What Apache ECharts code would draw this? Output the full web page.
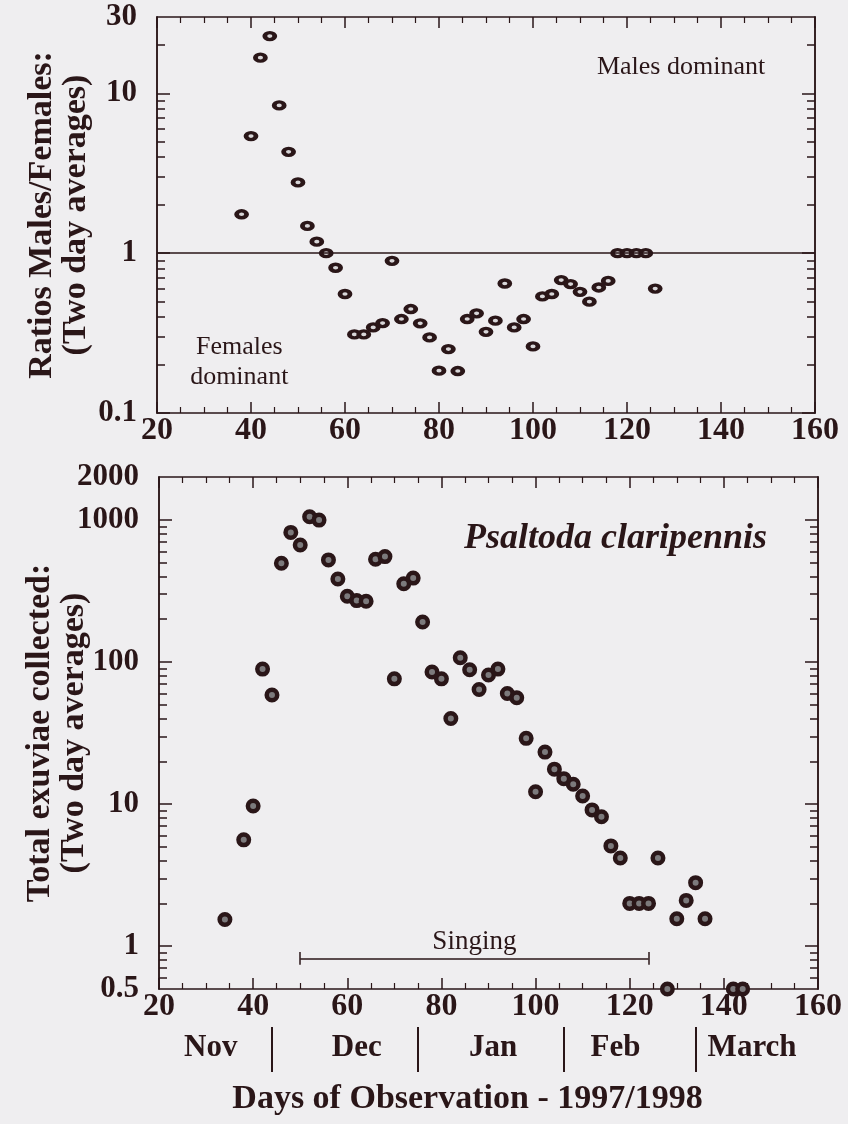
<!DOCTYPE html>
<html>
<head>
<meta charset="utf-8">
<script src="https://cdn.jsdelivr.net/npm/echarts@6/dist/echarts.min.js"></script>
<style>
  html, body { margin: 0; padding: 0; background: #efeef0; }
  #chart { width: 848px; height: 1124px; }
</style>
</head>
<body>
<div id="chart"></div>
<script>
// top panel: sex ratio (two day averages)
const ratioDays = [38, 40, 42, 44, 46, 48, 50, 52, 54, 56, 58, 60, 62, 64, 66, 68, 70, 72, 74, 76, 78, 80, 82, 84, 86, 88, 90, 92, 94, 96, 98, 100, 102, 104, 106, 108, 110, 112, 114, 116, 118, 120, 122, 124, 126];
const ratioValues = [1.75, 5.4, 16.7, 22.8, 8.4, 4.3, 2.77, 1.48, 1.18, 1.0, 0.81, 0.555, 0.31, 0.31, 0.343, 0.365, 0.895, 0.387, 0.447, 0.364, 0.297, 0.184, 0.251, 0.183, 0.387, 0.42, 0.322, 0.378, 0.646, 0.343, 0.387, 0.261, 0.536, 0.555, 0.678, 0.64, 0.573, 0.497, 0.61, 0.67, 1.0, 1.0, 1.0, 1.0, 0.6];

// bottom panel: total exuviae collected
const exuviaeDays = [34, 38, 40, 42, 44, 46, 48, 50, 52, 54, 56, 58, 60, 62, 64, 66, 68, 70, 72, 74, 76, 78, 80, 82, 84, 86, 88, 90, 92, 94, 96, 98, 100, 102, 104, 106, 108, 110, 112, 114, 116, 118, 120, 122, 124, 126, 128, 130, 132, 134, 136, 142, 144];
const exuviaeValues = [1.54, 5.6, 9.7, 89, 58.5, 495, 815, 665, 1050, 995, 522, 383, 290, 270, 267, 528, 551, 76, 355, 389, 191, 85, 76, 40, 107, 88, 64, 81, 89, 60, 56, 29, 12.2, 23.2, 17.6, 15.1, 13.8, 11.4, 9.1, 8.15, 5.08, 4.17, 2, 2, 2, 4.17, 0.5, 1.56, 2.1, 2.8, 1.56, 0.5, 0.5];

// axis ticks and labels
const ratioLabels = [0.1, 1, 10, 30];
const ratioMajorTicks = [0.1, 1, 10];
const ratioMinorTicks = [0.2, 0.3, 0.4, 0.5, 0.6, 0.7, 0.8, 0.9, 2, 3, 4, 5, 6, 7, 8, 9, 20];
const exuviaeLabels = [0.5, 1, 10, 100, 1000, 2000];
const exuviaeMajorTicks = [1, 10, 100, 1000];
const exuviaeMinorTicks = [0.6, 0.7, 0.8, 0.9, 2, 3, 4, 5, 6, 7, 8, 9, 20, 30, 40, 50, 60, 70, 80, 90, 200, 300, 400, 500, 600, 700, 800, 900];

const monthNames = ['Nov', 'Dec', 'Jan', 'Feb', 'March'];
const monthLabelDays = [31, 62, 91, 117, 146];
const monthBoundaryDays = [44, 75, 106, 134];

const singingStart = 50;
const singingEnd = 124;
const singingLevel = 0.82;

const INK = '#2a1618';
const FONT = 'Liberation Serif';

const chart = echarts.init(document.getElementById('chart'), null, { renderer: 'canvas' });

function dayAxis(gridIndex, position, showLabels) {
  return {
    type: 'value', gridIndex, position, min: 20, max: 160, interval: 20,
    axisLine: { show: true, onZero: false, lineStyle: { color: INK, width: 1.5 } },
    axisTick: { show: true, inside: true, length: 11, lineStyle: { color: INK, width: 1.5 } },
    minorTick: { show: true, splitNumber: 4, length: 6, lineStyle: { color: INK, width: 1.2 } },
    axisLabel: { show: showLabels, color: INK, fontFamily: FONT, fontWeight: 'bold', fontSize: 32, margin: 2 },
    splitLine: { show: false }
  };
}

function logAxis(gridIndex, position, min, max, ticks, tickLen, labels, name, nameGap) {
  const ax = {
    type: 'log', logBase: 10, gridIndex, position, min, max,
    axisLine: { show: true, onZero: false, lineStyle: { color: INK, width: 1.5 } },
    axisTick: { show: true, inside: true, length: tickLen, customValues: ticks, lineStyle: { color: INK, width: 1.5 } },
    axisLabel: { show: !!labels, color: INK, fontFamily: FONT, fontWeight: 'bold', fontSize: 31, margin: 20 },
    splitLine: { show: false }, minorTick: { show: false }
  };
  if (labels) {
    ax.axisLabel.customValues = labels;
    ax.axisLabel.formatter = v => String(+v.toPrecision(6));
  }
  if (name) {
    Object.assign(ax, {
      name, nameLocation: 'middle', nameRotate: 90, nameGap, nameMoveOverlap: false,
      nameTextStyle: { color: INK, fontFamily: FONT, fontWeight: 'bold', fontSize: 34, lineHeight: 34, align: 'center' }
    });
  }
  return ax;
}

const textStyle = (size, extra) => Object.assign({ color: INK, fontFamily: FONT, fontSize: size }, extra || {});

chart.setOption({
  backgroundColor: '#efeef0',
  animation: false,
  grid: [
    { left: 157, top: 17, width: 658, height: 396, outerBoundsMode: 'none', containLabel: false },
    { left: 159, top: 477, width: 659, height: 512, outerBoundsMode: 'none', containLabel: false }
  ],
  xAxis: [
    dayAxis(0, 'bottom', true),
    dayAxis(0, 'top', false),
    dayAxis(1, 'bottom', true),
    dayAxis(1, 'top', false),
    {
      type: 'value', gridIndex: 1, position: 'bottom', offset: 38, min: 20, max: 160,
      axisLine: { show: false },
      axisTick: { show: true, customValues: monthBoundaryDays, length: 45, lineStyle: { color: INK, width: 2 } },
      axisLabel: {
        customValues: monthLabelDays, margin: 5, color: INK, fontFamily: FONT, fontWeight: 'bold', fontSize: 31,
        formatter: v => monthNames[monthLabelDays.indexOf(v)]
      },
      splitLine: { show: false },
      name: 'Days of Observation - 1997/1998', nameLocation: 'middle', nameGap: 55,
      nameTextStyle: { color: INK, fontFamily: FONT, fontWeight: 'bold', fontSize: 34, padding: [0, 42, 0, 0] }
    }
  ],
  yAxis: [
    logAxis(0, 'left', 0.1, 30, ratioMajorTicks, 13, ratioLabels, 'Ratios Males/Females:\n(Two day averages)', 64),
    logAxis(0, 'left', 0.1, 30, ratioMinorTicks, 8),
    logAxis(0, 'right', 0.1, 30, ratioMajorTicks, 13),
    logAxis(0, 'right', 0.1, 30, ratioMinorTicks, 8),
    logAxis(1, 'left', 0.5, 2000, exuviaeMajorTicks, 13, exuviaeLabels, 'Total exuviae collected:\n(Two day averages)', 68),
    logAxis(1, 'left', 0.5, 2000, exuviaeMinorTicks, 8),
    logAxis(1, 'right', 0.5, 2000, exuviaeMajorTicks, 13),
    logAxis(1, 'right', 0.5, 2000, exuviaeMinorTicks, 8)
  ],
  series: [
    {
      type: 'scatter', xAxisIndex: 0, yAxisIndex: 0,
      data: ratioDays.map((d, i) => [d, ratioValues[i]]),
      symbol: 'circle', symbolSize: [10, 7],
      itemStyle: { color: '#d8d6d8', borderColor: INK, borderWidth: 4, opacity: 1 },
      markLine: {
        silent: true, symbol: 'none', label: { show: false },
        lineStyle: { color: INK, width: 1.5, type: 'solid' },
        data: [{ yAxis: 1 }]
      },
      markPoint: {
        symbol: 'circle', symbolSize: 0, silent: true,
        data: [
          { coord: [131.5, 14.6], label: { show: true, position: 'inside', formatter: 'Males dominant', ...textStyle(26) } },
          { coord: [37.5, 0.208], label: { show: true, position: 'inside', formatter: 'Females\ndominant', lineHeight: 30, align: 'center', ...textStyle(26) } }
        ]
      }
    },
    {
      type: 'scatter', xAxisIndex: 2, yAxisIndex: 4,
      data: exuviaeDays.map((d, i) => [d, exuviaeValues[i]]),
      symbol: 'circle', symbolSize: 10.5, clip: false,
      itemStyle: { color: '#7c7a7c', borderColor: INK, borderWidth: 4.5, opacity: 1 },
      markLine: {
        silent: true, symbol: 'none',
        lineStyle: { color: INK, width: 1.5, type: 'solid' },
        data: [
          [{ coord: [singingStart, singingLevel], label: { show: true, position: 'middle', formatter: 'Singing', distance: 3, ...textStyle(27) } },
           { coord: [singingEnd, singingLevel] }],
          [{ coord: [singingStart, 0.74], label: { show: false } }, { coord: [singingStart, 0.91] }],
          [{ coord: [singingEnd, 0.74], label: { show: false } }, { coord: [singingEnd, 0.91] }]
        ]
      },
      markPoint: {
        symbol: 'circle', symbolSize: 0, silent: true,
        data: [
          { coord: [117, 740], label: { show: true, position: 'inside', formatter: 'Psaltoda claripennis', ...textStyle(36, { fontWeight: 'bold', fontStyle: 'italic' }) } }
        ]
      }
    }
  ]
});
</script>
</body>
</html>
